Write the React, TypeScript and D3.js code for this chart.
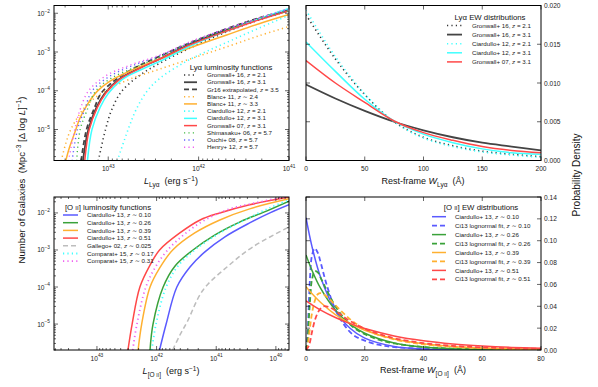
import React from "react";
import * as d3 from "d3";

type Pt = [number, number];

// ---- Lya luminosity functions, [log L, log phi]
const lyaG16z21: Pt[] = [[43.11, -5.81], [43.03, -5.0], [42.96, -4.48], [42.85, -4.01], [42.65, -3.6], [42.43, -3.29], [42.07, -2.87], [41.69, -2.48], [41.33, -2.17], [41.01, -1.94]];
const lyaG16z31: Pt[] = [[43.28, -5.81], [43.22, -5.0], [43.13, -4.43], [43.04, -4.07], [42.88, -3.7], [42.66, -3.42], [42.43, -3.18], [42.07, -2.77], [41.69, -2.43], [41.33, -2.14], [41.01, -1.94]];
const lyaGr16z35: Pt[] = [[43.3, -5.81], [43.24, -5.0], [43.15, -4.43], [43.08, -4.07], [42.91, -3.7], [42.69, -3.39], [42.45, -3.13], [42.07, -2.74], [41.69, -2.4], [41.33, -2.12], [41.01, -1.91]];
const lyaB11z24: Pt[] = [[43.52, -5.81], [43.47, -5.36], [43.42, -5.03], [43.34, -4.69], [43.25, -4.4], [43.14, -4.17], [42.98, -3.94], [42.76, -3.7], [42.43, -3.44], [41.99, -3.1], [41.63, -2.82], [41.33, -2.58], [41.01, -2.35]];
const lyaB11z33: Pt[] = [[43.47, -5.81], [43.43, -5.47], [43.37, -5.08], [43.31, -4.69], [43.23, -4.35], [43.12, -4.01], [42.98, -3.75], [42.76, -3.49], [42.43, -3.18], [42.07, -2.87], [41.69, -2.56], [41.33, -2.27], [41.01, -2.04]];
const lyaC12z21: Pt[] = [[42.9, -5.81], [42.78, -5.0], [42.69, -4.48], [42.57, -4.01], [42.43, -3.68], [42.15, -3.26], [41.88, -2.95], [41.6, -2.66], [41.33, -2.38], [41.01, -2.06]];
const lyaC12z31: Pt[] = [[43.23, -5.81], [43.18, -5.0], [43.09, -4.43], [43.0, -4.07], [42.84, -3.7], [42.62, -3.44], [42.4, -3.21], [42.07, -2.82], [41.69, -2.46], [41.33, -2.14], [41.01, -1.88]];
const lyaG07z31: Pt[] = [[43.26, -5.81], [43.21, -5.0], [43.12, -4.43], [43.03, -4.07], [42.87, -3.7], [42.65, -3.42], [42.43, -3.18], [42.07, -2.79], [41.69, -2.46], [41.33, -2.17], [41.01, -1.94]];
const lyaS06: Pt[] = [[43.35, -5.81], [43.31, -5.0], [43.23, -4.48], [43.14, -4.01], [42.97, -3.68], [42.7, -3.39], [42.43, -3.13], [42.07, -2.74], [41.69, -2.43], [41.33, -2.14], [41.01, -1.94]];
const lyaO08: Pt[] = [[43.4, -5.81], [43.34, -5.0], [43.26, -4.48], [43.18, -4.01], [43.0, -3.65], [42.74, -3.36], [42.43, -3.1], [42.07, -2.74], [41.69, -2.4], [41.33, -2.14], [41.01, -1.91]];
const lyaH12: Pt[] = [[43.44, -5.81], [43.37, -5.0], [43.31, -4.48], [43.22, -4.01], [43.03, -3.62], [42.76, -3.34], [42.43, -3.08], [42.07, -2.71], [41.69, -2.4], [41.33, -2.12], [41.01, -1.88]];

// ---- Lya EW distributions, probability density at each rest-frame EW
const ewLya = [0, 25, 50, 75, 100, 125, 150, 175, 200];
const ewG16z21 = [0.0188, 0.0131, 0.0085, 0.005, 0.003, 0.0019, 0.0012, 0.0008, 0.0005];
const ewG16z31 = [0.0098, 0.008, 0.0064, 0.005, 0.0039, 0.003, 0.0023, 0.0018, 0.0013];
const ewC12z21 = [0.0194, 0.0134, 0.0086, 0.005, 0.0029, 0.0018, 0.0011, 0.0007, 0.0004];
const ewC12z31 = [0.0153, 0.0115, 0.0079, 0.0051, 0.0034, 0.0023, 0.0015, 0.001, 0.0008];
const ewG07z31 = [0.0129, 0.01, 0.0075, 0.0051, 0.0036, 0.0026, 0.0018, 0.0013, 0.001];

// ---- [O II] luminosity functions, [log L, log phi]
const o2C13z010: Pt[] = [[41.95, -5.7], [41.84, -5.0], [41.66, -4.0], [41.44, -3.46], [41.19, -3.05], [40.86, -2.65], [40.44, -2.27], [40.1, -2.0], [39.78, -1.78]];
const o2C13z026: Pt[] = [[42.11, -5.7], [42.06, -5.0], [41.89, -4.0], [41.69, -3.43], [41.39, -3.0], [41.02, -2.59], [40.6, -2.24], [40.19, -1.97], [39.78, -1.68]];
const o2C13z039: Pt[] = [[42.31, -5.7], [42.25, -5.0], [42.11, -4.0], [41.95, -3.49], [41.73, -3.0], [41.36, -2.54], [40.94, -2.19], [40.44, -1.89], [39.78, -1.62]];
const o2C13z051: Pt[] = [[42.48, -5.7], [42.41, -5.0], [42.28, -4.0], [42.11, -3.41], [41.95, -3.0], [41.61, -2.54], [41.27, -2.19], [40.94, -2.0], [40.44, -1.78], [39.78, -1.57]];
const o2Ga02: Pt[] = [[41.73, -5.7], [41.61, -5.3], [41.49, -4.95], [41.22, -4.08], [40.82, -3.46], [40.39, -2.92], [39.78, -2.38]];
const o2Co15z017: Pt[] = [[42.08, -5.7], [42.01, -5.0], [41.84, -4.0], [41.64, -3.43], [41.36, -3.0], [40.97, -2.57], [40.52, -2.19], [40.1, -1.86], [39.78, -1.65]];
const o2Co15z031: Pt[] = [[42.4, -5.7], [42.33, -5.0], [42.18, -4.0], [42.03, -3.49], [41.83, -3.03], [41.53, -2.57], [41.19, -2.19], [40.77, -1.89], [40.35, -1.73], [39.78, -1.54]];

// ---- [O II] EW distributions
const ewO2 = [0, 2, 5, 10, 15, 20, 30, 40, 50, 60, 70, 80];
const ewO2C13z010 = [0.121, 0.0951, 0.0663, 0.0363, 0.0199, 0.0109, 0.0033, 0.001, 0.0003, 0.0001, 0, 0];
const ewO2C13z026 = [0.087, 0.0731, 0.0563, 0.0365, 0.0236, 0.0153, 0.0064, 0.0027, 0.0011, 0.0005, 0.0002, 0.0001];
const ewO2C13z039 = [0.058, 0.0516, 0.0434, 0.0324, 0.0243, 0.0181, 0.0101, 0.0057, 0.0032, 0.0018, 0.001, 0.0006];
const ewO2C13z051 = [0.045, 0.0414, 0.0365, 0.0297, 0.0241, 0.0196, 0.0129, 0.0085, 0.0056, 0.0037, 0.0024, 0.0016];
const lnFit010: Pt[] = [[0, 0], [0.5, 0.012], [1, 0.045], [1.5, 0.072], [2, 0.086], [3, 0.093], [4, 0.089], [5, 0.08], [7, 0.06], [10, 0.037], [13, 0.023], [16, 0.014], [20, 0.0085], [25, 0.0046], [30, 0.0027], [40, 0.0011], [50, 0.0005], [60, 0.0002], [80, 0.0001]];
const lnFit026: Pt[] = [[0, 0], [0.5, 0.008], [1, 0.03], [1.5, 0.05], [2, 0.064], [3, 0.072], [4, 0.071], [5, 0.066], [7, 0.055], [10, 0.04], [13, 0.029], [16, 0.021], [20, 0.0145], [25, 0.0093], [30, 0.006], [40, 0.0027], [50, 0.0013], [60, 0.0007], [70, 0.0004], [80, 0.0002]];
const lnFit039: Pt[] = [[0, 0], [0.5, 0.003], [1, 0.013], [2, 0.033], [3, 0.045], [4, 0.051], [5, 0.052], [7, 0.049], [10, 0.041], [13, 0.033], [16, 0.026], [20, 0.019], [25, 0.0135], [30, 0.0097], [40, 0.0052], [50, 0.0029], [60, 0.0017], [70, 0.001], [80, 0.0006]];
const lnFit051: Pt[] = [[0, 0], [1, 0.004], [2, 0.016], [3, 0.027], [4, 0.034], [5, 0.038], [6, 0.04], [8, 0.039], [10, 0.036], [13, 0.03], [16, 0.025], [20, 0.0195], [25, 0.0145], [30, 0.0108], [40, 0.0063], [50, 0.0038], [60, 0.0024], [70, 0.0016], [80, 0.0011]];

// tick labels
const lyaLTicks = [43, 42, 41];
const o2LTicks = [43, 42, 41, 40];
const lfPhiTicks = [-2, -3, -4, -5];
const ewLyaTicks = [0, 50, 100, 150, 200];
const pLyaTicks = [0, 0.005, 0.01, 0.015, 0.02];
const ewO2Ticks = [0, 20, 40, 60, 80];
const pO2Ticks = [0, 0.02, 0.04, 0.06, 0.08, 0.1, 0.12, 0.14];

const FONT = "'Liberation Sans', 'DejaVu Sans', sans-serif";
const col = {
  dark: "#444444",
  orange: "#ffb030",
  cyan: "#40ffff",
  red: "#ff4848",
  green: "#3aa23a",
  blue: "#5a5aff",
  magenta: "#f060f0",
  light: "#bdbdbd",
};

type Series = { name: string; z: string; data: Pt[]; color: string; dash?: string; width: number };
const DOT = "1.2 3.2";
const DASH = "5 3";

const zip = (xs: number[], ys: number[]): Pt[] => xs.map((x, i) => [x, ys[i]]);

const lyaLF: Series[] = [
  { name: "Gronwall+ 16, ", z: "= 2.1", data: lyaG16z21, color: "#333", dash: DOT, width: 1.6 },
  { name: "Gronwall+ 16, ", z: "= 3.1", data: lyaG16z31, color: col.dark, width: 1.8 },
  { name: "Gr16 extrapolated, ", z: "= 3.5", data: lyaGr16z35, color: col.dark, dash: DASH, width: 1.8 },
  { name: "Blanc+ 11, ", z: "∼ 2.4", data: lyaB11z24, color: col.orange, dash: DOT, width: 1.5 },
  { name: "Blanc+ 11, ", z: "∼ 3.3", data: lyaB11z33, color: col.orange, width: 1.5 },
  { name: "Ciardullo+ 12, ", z: "= 2.1", data: lyaC12z21, color: col.cyan, dash: DOT, width: 1.6 },
  { name: "Ciardullo+ 12, ", z: "= 3.1", data: lyaC12z31, color: col.cyan, width: 1.5 },
  { name: "Gronwall+ 07, ", z: "= 3.1", data: lyaG07z31, color: col.red, width: 1.5 },
  { name: "Shimasaku+ 06, ", z: "= 5.7", data: lyaS06, color: "#44bb44", dash: DOT, width: 1.4 },
  { name: "Ouchi+ 08, ", z: "= 5.7", data: lyaO08, color: "#6060ff", dash: DOT, width: 1.4 },
  { name: "Henry+ 12, ", z: "= 5.7", data: lyaH12, color: col.magenta, dash: DOT, width: 1.4 },
];

const lyaEW: Series[] = [
  { name: "Gronwall+ 16, ", z: "= 2.1", data: zip(ewLya, ewG16z21), color: "#333", dash: DOT, width: 1.6 },
  { name: "Gronwall+ 16, ", z: "= 3.1", data: zip(ewLya, ewG16z31), color: col.dark, width: 1.8 },
  { name: "Ciardullo+ 12, ", z: "= 2.1", data: zip(ewLya, ewC12z21), color: col.cyan, dash: DOT, width: 1.6 },
  { name: "Ciardullo+ 12, ", z: "= 3.1", data: zip(ewLya, ewC12z31), color: col.cyan, width: 1.5 },
  { name: "Gronwall+ 07, ", z: "= 3.1", data: zip(ewLya, ewG07z31), color: col.red, width: 1.5 },
];

const o2LF: Series[] = [
  { name: "Ciardullo+ 13, ", z: "∼ 0.10", data: o2C13z010, color: col.blue, width: 1.5 },
  { name: "Ciardullo+ 13, ", z: "∼ 0.26", data: o2C13z026, color: col.green, width: 1.5 },
  { name: "Ciardullo+ 13, ", z: "∼ 0.39", data: o2C13z039, color: col.orange, width: 1.5 },
  { name: "Ciardullo+ 13, ", z: "∼ 0.51", data: o2C13z051, color: col.red, width: 1.5 },
  { name: "Gallego+ 02, ", z: "∼ 0.025", data: o2Ga02, color: col.light, dash: DASH, width: 1.5 },
  { name: "Comparat+ 15, ", z: "∼ 0.17", data: o2Co15z017, color: col.cyan, dash: DOT, width: 1.8 },
  { name: "Comparat+ 15, ", z: "∼ 0.31", data: o2Co15z031, color: col.magenta, dash: DOT, width: 1.8 },
];

const o2EW: Series[] = [
  { name: "Ciardullo+ 13, ", z: "∼ 0.10", data: zip(ewO2, ewO2C13z010), color: col.blue, width: 1.5 },
  { name: "Ci13 lognormal fit, ", z: "∼ 0.10", data: lnFit010, color: col.blue, dash: DASH, width: 1.8 },
  { name: "Ciardullo+ 13, ", z: "∼ 0.26", data: zip(ewO2, ewO2C13z026), color: col.green, width: 1.5 },
  { name: "Ci13 lognormal fit, ", z: "∼ 0.26", data: lnFit026, color: col.green, dash: DASH, width: 1.8 },
  { name: "Ciardullo+ 13, ", z: "∼ 0.39", data: zip(ewO2, ewO2C13z039), color: col.orange, width: 1.5 },
  { name: "Ci13 lognormal fit, ", z: "∼ 0.39", data: lnFit039, color: col.orange, dash: DASH, width: 1.8 },
  { name: "Ciardullo+ 13, ", z: "∼ 0.51", data: zip(ewO2, ewO2C13z051), color: col.red, width: 1.5 },
  { name: "Ci13 lognormal fit, ", z: "∼ 0.51", data: lnFit051, color: col.red, dash: DASH, width: 1.8 },
];

type Box = { x0: number; x1: number; y0: number; y1: number };
type Tick = { pos: number; major: boolean; label?: React.ReactNode };

const sup = (e: number) => (
  <>
    10
    <tspan dy={-3.2} fontSize={4.8}>
      {e < 0 ? "−" + -e : e}
    </tspan>
  </>
);

// "[O II]" with the small-caps ionisation stage
const O2 = () => (
  <>
    [O <tspan fontSize="0.78em">II</tspan>]
  </>
);

// major + minor log ticks (pixel positions) for an exponent range
function logTicks(scale: d3.ScaleLogarithmic<number, number>, lo: number, hi: number, labelled: number[]): Tick[] {
  const out: Tick[] = [];
  for (let e = Math.floor(lo); e <= Math.ceil(hi); e++) {
    for (let m = 1; m < 10; m++) {
      const lv = e + Math.log10(m);
      if (lv < lo - 1e-6 || lv > hi + 1e-6) continue;
      out.push({ pos: scale(Math.pow(10, lv)), major: m === 1, label: m === 1 && labelled.includes(e) ? sup(e) : undefined });
    }
  }
  return out;
}

function Panel({ id, box, xTicks, yTicks, ySide, series, px }: {
  id: string; box: Box; xTicks: Tick[]; yTicks: Tick[]; ySide: "left" | "right"; series: Series[]; px: (p: Pt) => [number, number];
}) {
  const line = d3.line<Pt>().x((p) => px(p)[0]).y((p) => px(p)[1]).curve(d3.curveCatmullRom.alpha(0.5));
  const { x0, x1, y0, y1 } = box;
  return (
    <g>
      <defs>
        <clipPath id={id}>
          <rect x={x0} y={y0} width={x1 - x0} height={y1 - y0} />
        </clipPath>
      </defs>
      <g clipPath={`url(#${id})`}>
        {series.map((s, i) => (
          <path key={i} d={line(s.data) || ""} fill="none" stroke={s.color} strokeWidth={s.width} strokeDasharray={s.dash} />
        ))}
      </g>
      <rect x={x0} y={y0} width={x1 - x0} height={y1 - y0} fill="none" stroke="#000" strokeWidth={1} />
      {xTicks.map((t, i) => {
        const l = t.major ? 4 : 2;
        return (
          <g key={"x" + i}>
            <line x1={t.pos} x2={t.pos} y1={y1} y2={y1 - l} stroke="#000" strokeWidth={0.6} />
            <line x1={t.pos} x2={t.pos} y1={y0} y2={y0 + l} stroke="#000" strokeWidth={0.6} />
            {t.label !== undefined && (
              <text x={t.pos} y={y1 + 10.5} textAnchor="middle" fontSize={6.6} fill="#222">
                {t.label}
              </text>
            )}
          </g>
        );
      })}
      {yTicks.map((t, i) => {
        const l = t.major ? 4 : 2;
        return (
          <g key={"y" + i}>
            <line x1={x0} x2={x0 + l} y1={t.pos} y2={t.pos} stroke="#000" strokeWidth={0.6} />
            <line x1={x1} x2={x1 - l} y1={t.pos} y2={t.pos} stroke="#000" strokeWidth={0.6} />
            {t.label !== undefined && (
              <text x={ySide === "left" ? x0 - 4 : x1 + 3} y={t.pos + 2.5} textAnchor={ySide === "left" ? "end" : "start"} fontSize={6.6} fill="#222">
                {t.label}
              </text>
            )}
          </g>
        );
      })}
    </g>
  );
}

function Legend({ title, titleX, titleY, items, lx0, lx1, tx, ry, dy }: {
  title: React.ReactNode; titleX: number; titleY: number; items: Series[]; lx0: number; lx1: number; tx: number; ry: number; dy: number;
}) {
  return (
    <g>
      <text x={titleX} y={titleY} textAnchor="middle" fontSize={7.8} fill="#111">
        {title}
      </text>
      {items.map((s, i) => {
        const y = ry + i * dy;
        return (
          <g key={i}>
            <line x1={lx0} x2={lx1} y1={y} y2={y} stroke={s.color} strokeWidth={s.width} strokeDasharray={s.dash} />
            <text x={tx} y={y + 2.1} fontSize={6.2} fill="#222">
              {s.name}
              <tspan fontStyle="italic">z</tspan> {s.z}
            </text>
          </g>
        );
      })}
    </g>
  );
}

export default function App() {
  // panel boxes
  const tl: Box = { x0: 54, x1: 289, y0: 5.5, y1: 160.5 };
  const tr: Box = { x0: 306, x1: 541, y0: 5.5, y1: 160.5 };
  const bl: Box = { x0: 54, x1: 289, y0: 197, y1: 350 };
  const br: Box = { x0: 306, x1: 541, y0: 197, y1: 350 };

  // top-left: Lya LF (luminosity decreasing to the right)
  const tlx = d3.scaleLog().domain([10 ** 43.6, 10 ** 41.0]).range([tl.x0, tl.x1]);
  const tly = d3.scaleLog().domain([10 ** -5.8, 10 ** -1.8]).range([tl.y1, tl.y0]);
  // bottom-left: [O II] LF
  const blx = d3.scaleLog().domain([10 ** 43.72, 10 ** 39.78]).range([bl.x0, bl.x1]);
  const bly = d3.scaleLog().domain([10 ** -5.7, 10 ** -1.57]).range([bl.y1, bl.y0]);
  // right panels: EW distributions
  const trx = d3.scaleLinear().domain([0, 200]).range([tr.x0, tr.x1]);
  const tryy = d3.scaleLinear().domain([0, 0.02]).range([tr.y1, tr.y0]);
  const brx = d3.scaleLinear().domain([0, 80]).range([br.x0, br.x1]);
  const bry = d3.scaleLinear().domain([0, 0.14]).range([br.y1, br.y0]);

  const lin = (scale: d3.ScaleLinear<number, number>, vals: number[], fmt: (v: number) => string): Tick[] =>
    vals.map((v) => ({ pos: scale(v), major: true, label: fmt(v) }));

  const xl = (lbl: string, sub: React.ReactNode, cx: number, cy: number, unitsErg: boolean) => (
    <text x={cx} y={cy} textAnchor="middle" fontSize={9} fill="#111">
      {unitsErg ? null : "Rest-frame "}
      <tspan fontStyle="italic">{lbl}</tspan>
      <tspan dy={2.5} fontSize={6.5}>{sub}</tspan>
      <tspan dy={-2.5}>{unitsErg ? "\u00a0\u00a0(erg s" : "\u00a0\u00a0(Å)"}</tspan>
      {unitsErg && (
        <>
          <tspan dy={-3.5} fontSize={6.5}>−1</tspan>
          <tspan dy={3.5}>)</tspan>
        </>
      )}
    </text>
  );

  return (
    <svg width={598} height={387} style={{ position: "absolute", left: 0, top: 0, background: "#fff" }} fontFamily={FONT}>
      <rect width={598} height={387} fill="#fff" />
      <Panel id="ctl" box={tl} series={lyaLF} ySide="left"
        px={(p) => [tlx(10 ** p[0]), tly(10 ** p[1])]}
        xTicks={logTicks(tlx, 41.0, 43.6, lyaLTicks)}
        yTicks={logTicks(tly, -5.8, -1.8, lfPhiTicks)} />
      <Panel id="ctr" box={tr} series={lyaEW} ySide="right"
        px={(p) => [trx(p[0]), tryy(p[1])]}
        xTicks={lin(trx, ewLyaTicks, (v) => String(v))}
        yTicks={lin(tryy, pLyaTicks, (v) => v.toFixed(3))} />
      <Panel id="cbl" box={bl} series={o2LF} ySide="left"
        px={(p) => [blx(10 ** p[0]), bly(10 ** p[1])]}
        xTicks={logTicks(blx, 39.78, 43.72, o2LTicks)}
        yTicks={logTicks(bly, -5.7, -1.57, lfPhiTicks)} />
      <Panel id="cbr" box={br} series={o2EW} ySide="right"
        px={(p) => [brx(p[0]), bry(p[1])]}
        xTicks={lin(brx, ewO2Ticks, (v) => String(v))}
        yTicks={lin(bry, pO2Ticks, (v) => v.toFixed(2))} />

      <Legend title={<>Lyα luminosity functions</>} titleX={231} titleY={70} items={lyaLF}
        lx0={184} lx1={197} tx={207} ry={75} dy={7.23} />
      <Legend title={<>Lyα EW distributions</>} titleX={490} titleY={19.5} items={lyaEW}
        lx0={447} lx1={462} tx={472} ry={25.5} dy={9.1} />
      <Legend title={<><O2 /> luminosity functions</>} titleX={108} titleY={209.5} items={o2LF}
        lx0={63} lx1={78} tx={87} ry={215} dy={7.7} />
      <Legend title={<><O2 /> EW distributions</>} titleX={481} titleY={209.5} items={o2EW}
        lx0={432} lx1={446} tx={455} ry={216.7} dy={8.95} />

      {xl("L", "Lyα", 171, 184, true)}
      {xl("W", "Lyα", 423, 184, false)}
      {xl("L", <O2 />, 171, 374, true)}
      {xl("W", <O2 />, 423, 373, false)}

      <text transform="translate(25,180) rotate(-90)" textAnchor="middle" fontSize={9.6} fill="#111">
        Number of Galaxies{"\u00a0\u00a0"}(Mpc<tspan dy={-4} fontSize={6.5}>−3</tspan>
        <tspan dy={4}> [Δ log </tspan>
        <tspan fontStyle="italic">L</tspan>]<tspan dy={-4} fontSize={6.5}>−1</tspan>
        <tspan dy={4}>)</tspan>
      </text>
      <text transform="translate(580,175) rotate(-90)" textAnchor="middle" fontSize={10} fill="#111">
        Probability Density
      </text>
    </svg>
  );
}
